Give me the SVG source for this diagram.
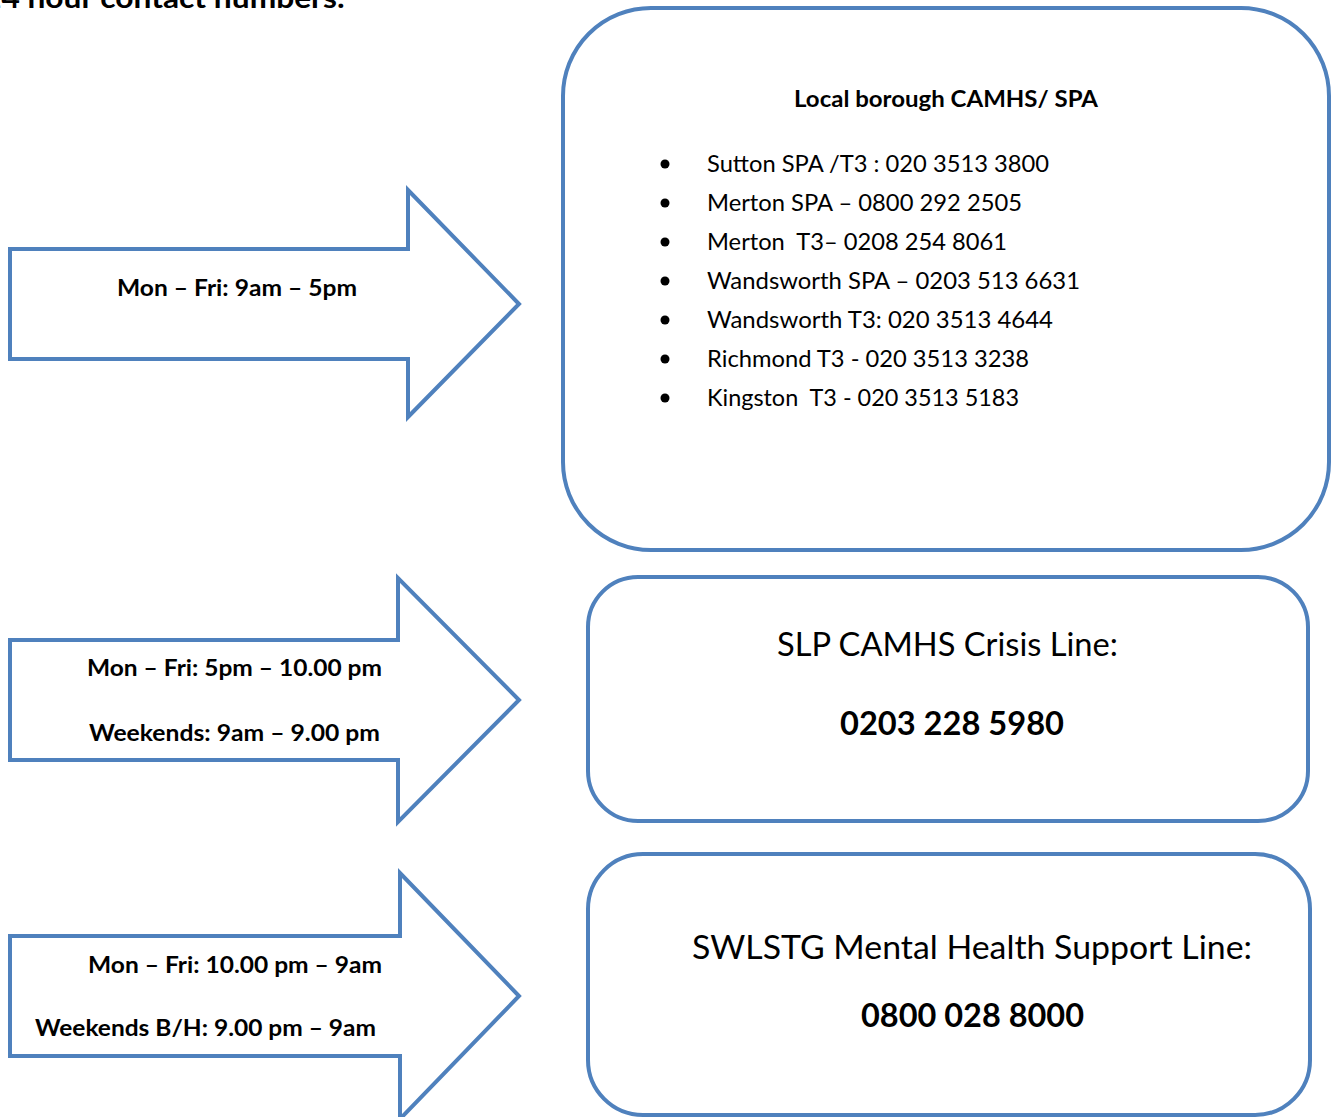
<svg xmlns="http://www.w3.org/2000/svg" width="1336" height="1117" viewBox="0 0 1336 1117">
<style>
.shape{fill:#ffffff;stroke:#4F81BD;stroke-width:4;stroke-linejoin:miter}
.box{fill:#ffffff;stroke:#4F81BD;stroke-width:4}
text{font-family:Lato,"Open Sans","Liberation Sans",sans-serif;fill:#000;white-space:pre}
.b{font-weight:bold}
.lbl{font-size:22px;font-weight:bold}
.item{font-size:23px}
.big{font-size:33px}
</style>
<rect width="1336" height="1117" fill="#ffffff"/>
<text x="-17" y="8" class="b" font-size="28" textLength="362" lengthAdjust="spacingAndGlyphs">24 hour contact numbers:</text>

<g id="arrow1">
<polygon class="shape" points="10,249 408,249 408,190 519,304 408,417 408,359 10,359"/>
<text x="117" y="296" class="lbl" textLength="240" lengthAdjust="spacingAndGlyphs">Mon – Fri: 9am – 5pm</text>
</g>
<g id="arrow2">
<polygon class="shape" points="10,640 398,640 398,578 519,700 398,822 398,760 10,760"/>
<text x="87" y="676" class="lbl" textLength="295" lengthAdjust="spacingAndGlyphs">Mon – Fri: 5pm – 10.00 pm</text>
<text x="89" y="741" class="lbl" textLength="291" lengthAdjust="spacingAndGlyphs">Weekends: 9am – 9.00 pm</text>
</g>
<g id="arrow3">
<polygon class="shape" points="10,936 400,936 400,873 519,996 400,1119 400,1056 10,1056"/>
<text x="88" y="973" class="lbl" textLength="294" lengthAdjust="spacingAndGlyphs">Mon – Fri: 10.00 pm – 9am</text>
<text x="35" y="1036" class="lbl" textLength="341" lengthAdjust="spacingAndGlyphs">Weekends B/H: 9.00 pm – 9am</text>
</g>

<g id="box-local">
<rect class="box" x="563" y="8" width="766" height="542" rx="88" ry="88"/>
<text x="794" y="107" class="lbl" font-size="21" textLength="304" lengthAdjust="spacingAndGlyphs">Local borough CAMHS/ SPA</text>
<g fill="#000">
<circle cx="665" cy="164" r="4.5"/>
<circle cx="665" cy="203" r="4.5"/>
<circle cx="665" cy="242" r="4.5"/>
<circle cx="665" cy="281" r="4.5"/>
<circle cx="665" cy="320" r="4.5"/>
<circle cx="665" cy="359" r="4.5"/>
<circle cx="665" cy="398" r="4.5"/>
</g>
<text x="707" y="172" class="item" textLength="342" lengthAdjust="spacingAndGlyphs">Sutton SPA /T3 : 020 3513 3800</text>
<text x="707" y="211" class="item" textLength="315" lengthAdjust="spacingAndGlyphs">Merton SPA – 0800 292 2505</text>
<text x="707" y="250" class="item" textLength="300" lengthAdjust="spacingAndGlyphs">Merton  T3– 0208 254 8061</text>
<text x="707" y="289" class="item" textLength="373" lengthAdjust="spacingAndGlyphs">Wandsworth SPA – 0203 513 6631</text>
<text x="707" y="328" class="item" textLength="346" lengthAdjust="spacingAndGlyphs">Wandsworth T3: 020 3513 4644</text>
<text x="707" y="367" class="item" textLength="322" lengthAdjust="spacingAndGlyphs">Richmond T3 - 020 3513 3238</text>
<text x="707" y="406" class="item" textLength="312" lengthAdjust="spacingAndGlyphs">Kingston  T3 - 020 3513 5183</text>
</g>

<g id="box-crisis">
<rect class="box" x="588" y="577" width="720" height="244" rx="50" ry="50"/>
<text x="777" y="656" class="big" textLength="341" lengthAdjust="spacingAndGlyphs">SLP CAMHS Crisis Line:</text>
<text x="840" y="735" class="big b" textLength="224" lengthAdjust="spacingAndGlyphs">0203 228 5980</text>
</g>

<g id="box-support">
<rect class="box" x="588" y="854" width="722" height="261" rx="55" ry="55"/>
<text x="692" y="959" class="big" textLength="560" lengthAdjust="spacingAndGlyphs">SWLSTG Mental Health Support Line:</text>
<text x="861" y="1027" class="big b" textLength="223" lengthAdjust="spacingAndGlyphs">0800 028 8000</text>
</g>

<g id="connectors"></g>
</svg>
